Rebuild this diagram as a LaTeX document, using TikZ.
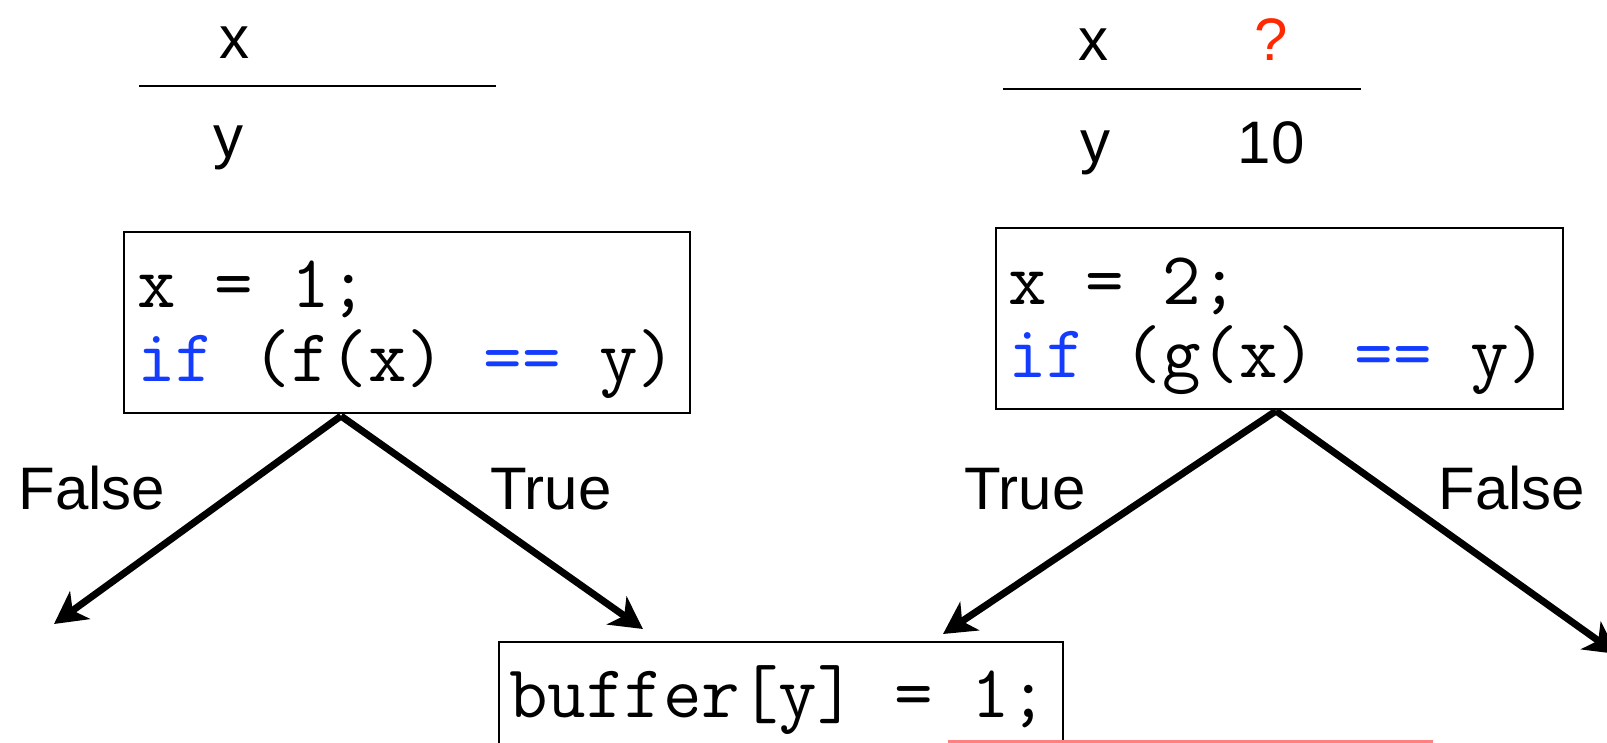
\documentclass[tikz,border=0pt]{standalone}
\usepackage{fontspec}
\setmainfont{Liberation Sans}
\usetikzlibrary{arrows.meta}
\definecolor{kwblue}{RGB}{20,60,255}
\definecolor{qred}{RGB}{255,40,0}
\definecolor{salmon}{RGB}{255,128,128}
\begin{document}
\begin{tikzpicture}[x=1pt,y=1pt,
  lab/.style={font=\fontsize{60}{72}\selectfont, inner sep=0pt, anchor=base},
  code/.style={font=\ttfamily\fontsize{74.8}{84}\selectfont, inner sep=0pt, anchor=base west},
  codebox/.style={draw, line width=2pt, minimum width=#1, inner sep=0pt},
  rule/.style={line width=2.2pt},
  flow/.style={line width=7pt, -{Stealth[length=32pt,width=34pt,inset=9pt]}}
]
\useasboundingbox (0,0) rectangle (1607,-742);
\clip (0,0) rectangle (1607,-742);
% top-left table
\node[lab] (lx) at (234,-58) {x};
\node[lab] (ly) at (228,-157) {y};
\draw[rule] (139,-86) coordinate (lra) -- (496,-86) coordinate (lrb);
% top-right table
\node[lab] (rx) at (1093,-60) {x};
\node[lab, text=qred] (rq) at (1271,-60) {?};
\node[lab] (ry) at (1095,-162) {y};
\node[lab] (r10) at (1271,-163) {10};
\draw[rule] (1003,-89) coordinate (rra) -- (1361,-89) coordinate (rrb);
% boxes
\node[codebox=566pt, minimum height=181pt] (lbox) at (407,-322.5) {};
\node[codebox=567pt, minimum height=181pt] (rbox) at (1279.5,-318.5) {};
\node[codebox=564pt, minimum height=200pt] (bbox) at (781,-742) {};
% code text
\node[code] (l1) at (137,-307) {x = 1;};
\node[code] (l2) at (137,-381) {\textcolor{kwblue}{if} (f(x) \textcolor{kwblue}{==} y)};
\node[code] (r1) at (1008,-304) {x = 2;};
\node[code] (r2) at (1008,-377) {\textcolor{kwblue}{if} (g(x) \textcolor{kwblue}{==} y)};
\node[code] (b1) at (509,-717) {buffer[y] = 1;};
% labels
\node[lab] (lf) at (92,-509) {False};
\node[lab] (lt) at (551,-509) {True};
\node[lab] (rt) at (1025,-509) {True};
\node[lab] (rf) at (1512,-509) {False};
% connectors
\coordinate (ls) at (341,-416);
\coordinate (rs) at (1276,-411);
\coordinate (lfe) at (54,-624);
\coordinate (rfe) at (1617,-654);
\coordinate (lte) at (643,-629);
\coordinate (rte) at (943,-634);
\draw[flow] (ls) -- (lfe);
\draw[flow] (ls) -- (lte);
\draw[flow] (rs) -- (rte);
\draw[flow] (rs) -- (rfe);
% red underline
\draw[salmon, line width=4pt] (948,-742) coordinate (ua) -- (1433,-742) coordinate (ub);
\end{tikzpicture}
\end{document}
